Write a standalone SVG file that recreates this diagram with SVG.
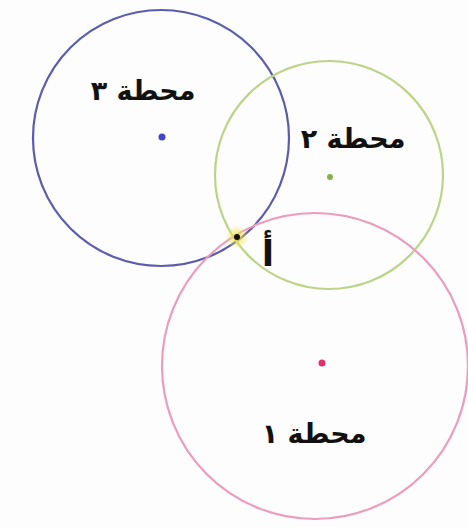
<svg xmlns="http://www.w3.org/2000/svg" width="468" height="527" viewBox="0 0 468 527">
<defs>
<style>
.ring{fill:none;stroke-width:2.2}
.lbl{font-family:"DejaVu Sans","Noto Sans",sans-serif;font-weight:bold;font-size:27px;fill:#111;text-anchor:middle;direction:rtl}
</style>
<radialGradient id="glow">
<stop offset="0" stop-color="#f0e040" stop-opacity="0.9"/>
<stop offset="1" stop-color="#f0e040" stop-opacity="0"/>
</radialGradient>
</defs>
<rect width="468" height="527" fill="#fdfdfd"/>
<g id="station3">
<circle class="ring" cx="161" cy="138" r="128" stroke="#5c5cae"/>
<circle cx="162" cy="137" r="3.5" fill="#4444c4"/>
<text class="lbl" x="143" y="100">محطة ٣</text>
</g>
<g id="station2">
<circle class="ring" cx="329" cy="175" r="114" stroke="#bcd488"/>
<circle cx="330" cy="177" r="3" fill="#86b04c"/>
<text class="lbl" x="353" y="148">محطة ٢</text>
</g>
<g id="station1">
<circle class="ring" cx="315" cy="366" r="153" stroke="#ec9cbc"/>
<circle cx="322" cy="363" r="3.5" fill="#e2306c"/>
<text class="lbl" x="314" y="443">محطة ١</text>
</g>
<g id="pointA">
<circle cx="237" cy="237" r="12" fill="url(#glow)"/>
<circle cx="237" cy="237" r="3" fill="#111"/>
<text class="lbl" x="268" y="266" style="font-size:36px">أ</text>
</g>
<g id="connectors"/>
</svg>
